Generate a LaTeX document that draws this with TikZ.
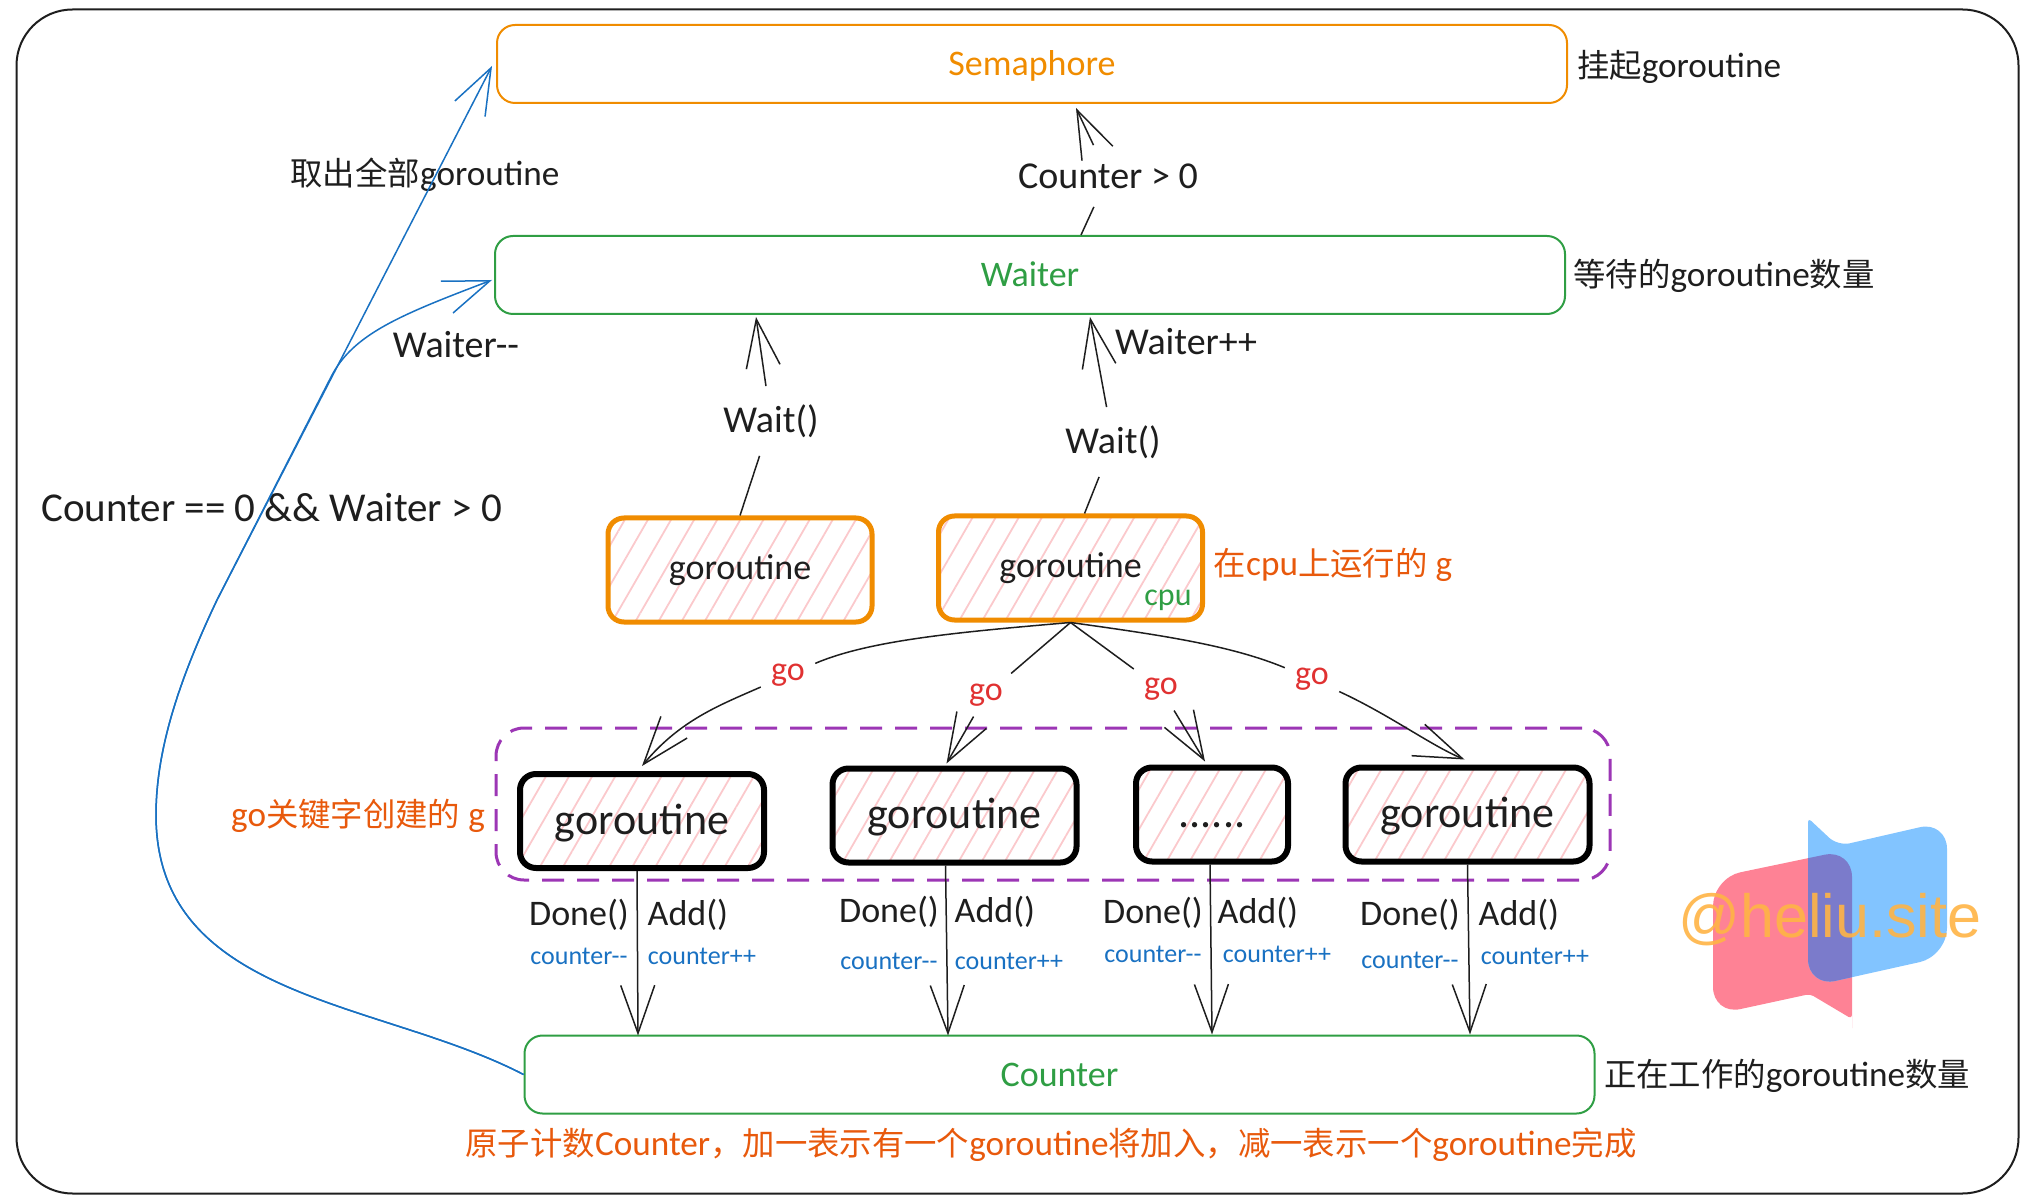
\documentclass[tikz,border=0pt]{standalone}
\usepackage{fontspec}
\setmainfont{Carlito}
\newfontfamily\cjk[Scale=0.92]{Noto Sans CJK SC}
\newfontfamily\logofont{Liberation Sans}
\usetikzlibrary{arrows.meta, patterns.meta}
\definecolor{inkblack}{HTML}{1E1E1E}
\definecolor{inkorange}{HTML}{F08C00}
\definecolor{inkgreen}{HTML}{2F9E44}
\definecolor{inkblue}{HTML}{1971C2}
\definecolor{inkred}{HTML}{E03131}
\definecolor{inkpurple}{HTML}{9C36B5}
\definecolor{inkrust}{HTML}{E8590C}
\definecolor{hatchpink}{HTML}{FBC9CC}
\definecolor{logored}{HTML}{FE8295}
\definecolor{logoblue}{HTML}{82C4FF}
\definecolor{logomix}{HTML}{7B7BCB}
\definecolor{logotext}{HTML}{FFB445}
\newcommand{\zh}[1]{{\cjk #1}}
\newcommand{\logored}{(1713,950) [rounded corners=14pt] -- (1713,878) -- (1852,849) -- (1852,1000) [rounded corners=2pt] -- (1852,1019) -- (1810,994) [rounded corners=14pt] -- (1713,1015) -- cycle}
\newcommand{\logoblue}{(1808,890) [rounded corners=2pt] -- (1808,818) [rounded corners=6pt] -- (1838,846) [rounded corners=14pt] -- (1947,821) -- (1947,956) -- (1808,987) -- cycle}
\tikzstyle{txt} = [inner sep=0pt, text=inkblack, font=\fontsize{17.6}{22}\selectfont]
\tikzstyle{note} = [txt, text=inkrust]
\tikzstyle{gaplabel} = [txt, inner sep=9pt, font=\fontsize{19}{22}\selectfont]
\tikzstyle{golabel} = [txt, inner sep=5pt, text=inkred, font=\fontsize{17}{20}\selectfont]
\tikzstyle{small} = [txt, text=inkblue, font=\fontsize{13}{16}\selectfont]
\tikzstyle{method} = [txt, font=\fontsize{18}{22}\selectfont]
\tikzstyle{frame} = [rectangle, rounded corners=28pt, minimum width=1001pt, minimum height=592pt, draw=inkblack, line width=1pt]
\tikzstyle{bar} = [rectangle, rounded corners=9pt, minimum width=535pt, minimum height=39pt, line width=1pt, inner sep=0pt, text height=16pt, text depth=4pt, font=\fontsize{18}{22}\selectfont]
\tikzstyle{hatched} = [rectangle, rounded corners=8pt, pattern={Lines[angle=60, distance=10pt, line width=0.9pt]}, pattern color=hatchpink, text=inkblack, inner sep=0pt]
\tikzstyle{running} = [hatched, minimum width=132pt, minimum height=52pt, draw=inkorange, line width=2.5pt, font=\fontsize{18}{22}\selectfont]
\tikzstyle{spawned} = [hatched, minimum width=122pt, minimum height=47pt, draw=black, line width=3pt, text height=17pt, text depth=4pt, font=\fontsize{22}{26}\selectfont]
\tikzstyle{arrow} = [draw=inkblack, line width=0.75pt, -{Straight Barb[length=24pt, width=17pt]}]
\tikzstyle{plain} = [draw=inkblack, line width=0.75pt]
\tikzstyle{bluearrow} = [draw=inkblue, line width=0.75pt, -{Straight Barb[length=23pt, width=17pt]}]

\begin{document}
\begin{tikzpicture}[x=0.5pt, y=-0.5pt]
	\useasboundingbox (0,0) rectangle (2032,1202);
	\node (frame) [frame] at (1017.5,601.5) {};

	\node (semaphore) [bar, draw=inkorange, text=inkorange] at (1032,64) {Semaphore};
	\node (waiter) [bar, draw=inkgreen, text=inkgreen] at (1030,275) {Waiter};
	\node (counter) [bar, draw=inkgreen, text=inkgreen] at (1059.5,1074.5) {Counter};

	\node (semaphorenote) [txt] at (1679,67) {\zh{挂起}goroutine};
	\node (waiternote) [txt] at (1724,276) {\zh{等待的}goroutine\zh{数量}};
	\node (counternote) [txt] at (1787,1076) {\zh{正在工作的}goroutine\zh{数量}};
	\node (atomicnote) [note] at (1051,1145) {\zh{原子计数}Counter\zh{，加一表示有一个}goroutine\zh{将加入，减一表示一个}goroutine\zh{完成}};
	\node (takenote) [txt] at (425,175) {\zh{取出全部}goroutine};
	\node (waiterdec) [txt, font=\fontsize{19}{22}\selectfont] at (456,345) {Waiter-{}-};
	\node (waiterinc) [txt, font=\fontsize{19}{22}\selectfont] at (1186,342) {Waiter++};
	\node (wakecond) [txt, font=\fontsize{20.5}{24}\selectfont] at (271.5,508) {Counter == 0 \&\& Waiter > 0};

	\node (gone) [running] at (740,570) {goroutine};
	\node (gcpu) [running] at (1070.5,568) {goroutine};
	\node (cpulabel) [txt, text=inkgreen, font=\fontsize{16}{18}\selectfont] at (1168,600) {cpu};
	\node (cpunote) [note] at (1333,565) {\zh{在}cpu\zh{上运行的} g};

	\node (group) [rectangle, rounded corners=14pt, minimum width=557pt, minimum height=76pt, draw=inkpurple, line width=1.5pt, dash pattern=on 11pt off 6.5pt] at (1053,804) {};
	\node (groupnote) [note] at (358,816) {go\zh{关键字创建的} g};
	\node (gtwo) [spawned] at (642,821) {goroutine};
	\node (gthree) [spawned] at (954.5,815.5) {goroutine};
	\node (gdots) [spawned, minimum width=76pt] at (1212,814.5) {......};
	\node (gfour) [spawned] at (1467.5,814.5) {goroutine};

	\node (condwait) [gaplabel] at (1108,176) {Counter > 0};
	\node (waitone) [gaplabel] at (771,421) {Wait()};
	\node (waittwo) [gaplabel] at (1113,442) {Wait()};
	\node (goone) [golabel] at (788,675) {go};
	\node (gotwo) [golabel] at (986,695) {go};
	\node (gothree) [golabel] at (1161,689) {go};
	\node (gofour) [golabel] at (1312,679) {go};

	\node (doneone) [method] at (579,915) {Done()};
	\node (addone) [method, right of=doneone, xshift=26pt] {Add()};
	\node (decone) [small, below of=doneone, yshift=8pt] {counter-{}-};
	\node (incone) [small, below of=addone, yshift=8pt, xshift=7pt] {counter++};
	\node (donetwo) [method] at (889,912) {Done()};
	\node (addtwo) [method, right of=donetwo, xshift=24.5pt] {Add()};
	\node (dectwo) [small, below of=donetwo, yshift=4pt] {counter-{}-};
	\node (inctwo) [small, below of=addtwo, yshift=4pt, xshift=7pt] {counter++};
	\node (donethree) [method] at (1153,913) {Done()};
	\node (addthree) [method, right of=donethree, xshift=24pt] {Add()};
	\node (decthree) [small, below of=donethree, yshift=8pt] {counter-{}-};
	\node (incthree) [small, below of=addthree, yshift=8pt, xshift=9.5pt] {counter++};
	\node (donefour) [method] at (1410,915) {Done()};
	\node (addfour) [method, right of=donefour, xshift=26pt] {Add()};
	\node (decfour) [small, below of=donefour, yshift=6pt] {counter-{}-};
	\node (incfour) [small, below of=addfour, yshift=8pt, xshift=8pt] {counter++};

	\draw [plain] ([xshift=25.5pt]waiter.north) -- (condwait);
	\draw [arrow] (condwait) -- ([xshift=22pt, yshift=-2pt]semaphore.south);
	\draw [plain] (gone.north) -- (waitone);
	\draw [arrow] (waitone) -- ([xshift=-137pt, yshift=-1pt]waiter.south);
	\draw [plain] ([xshift=7pt]gcpu.north) -- (waittwo);
	\draw [arrow] (waittwo) -- ([xshift=30pt, yshift=-1pt]waiter.south);

	\draw [plain] (gcpu.south) .. controls (960,632) and (870,640) .. (goone);
	\draw [arrow] (goone) .. controls (720,705) and (680,720) .. ([yshift=2.5pt]gtwo.north);
	\draw [plain] (gcpu.south) -- (gotwo);
	\draw [arrow] (gotwo) -- ([xshift=-4pt, yshift=1pt]gthree.north);
	\draw [plain] (gcpu.south) -- (gothree);
	\draw [arrow] (gothree) -- ([xshift=-3.5pt, yshift=1.5pt]gdots.north);
	\draw [plain] (gcpu.south) .. controls (1160,635) and (1230,645) .. (gofour);
	\draw [arrow] (gofour) .. controls (1390,715) and (1430,745) .. ([xshift=-1.5pt, yshift=2.5pt]gfour.north);

	\draw [arrow] ([xshift=-2.5pt]gtwo.south) -- ([xshift=-210.75pt, yshift=-0.5pt]counter.north);
	\draw [arrow] ([xshift=-4.5pt]gthree.south) -- ([xshift=-55.75pt, yshift=-0.5pt]counter.north);
	\draw [arrow] ([xshift=-1pt]gdots.south) -- ([xshift=76.25pt]counter.north);
	\draw [arrow] (gfour.south) -- ([xshift=205.25pt]counter.north);

	\draw [bluearrow] (counter.west) .. controls (380,1000) and (156,1000) .. (156,815) .. controls (156,750) and (179,680) .. (217,600) -- ([xshift=-2pt, yshift=-1pt]semaphore.west);
	\draw [bluearrow] (counter.west) .. controls (380,1000) and (156,1000) .. (156,815) .. controls (156,750) and (179,680) .. (217,600) -- (331,377) .. controls (353,334) and (400,315) .. ([xshift=-1pt, yshift=-2.5pt]waiter.west);

	\fill [logored] \logored;
	\fill [logoblue] \logoblue;
	\begin{scope}
		\clip \logored;
		\fill [logomix] \logoblue;
	\end{scope}
	\node (logolabel) [inner sep=0pt, text=logotext, text opacity=0.9, font=\logofont\fontsize{30.5}{34}\selectfont] at (1830,920) {@heliu.site};
\end{tikzpicture}
\end{document}
